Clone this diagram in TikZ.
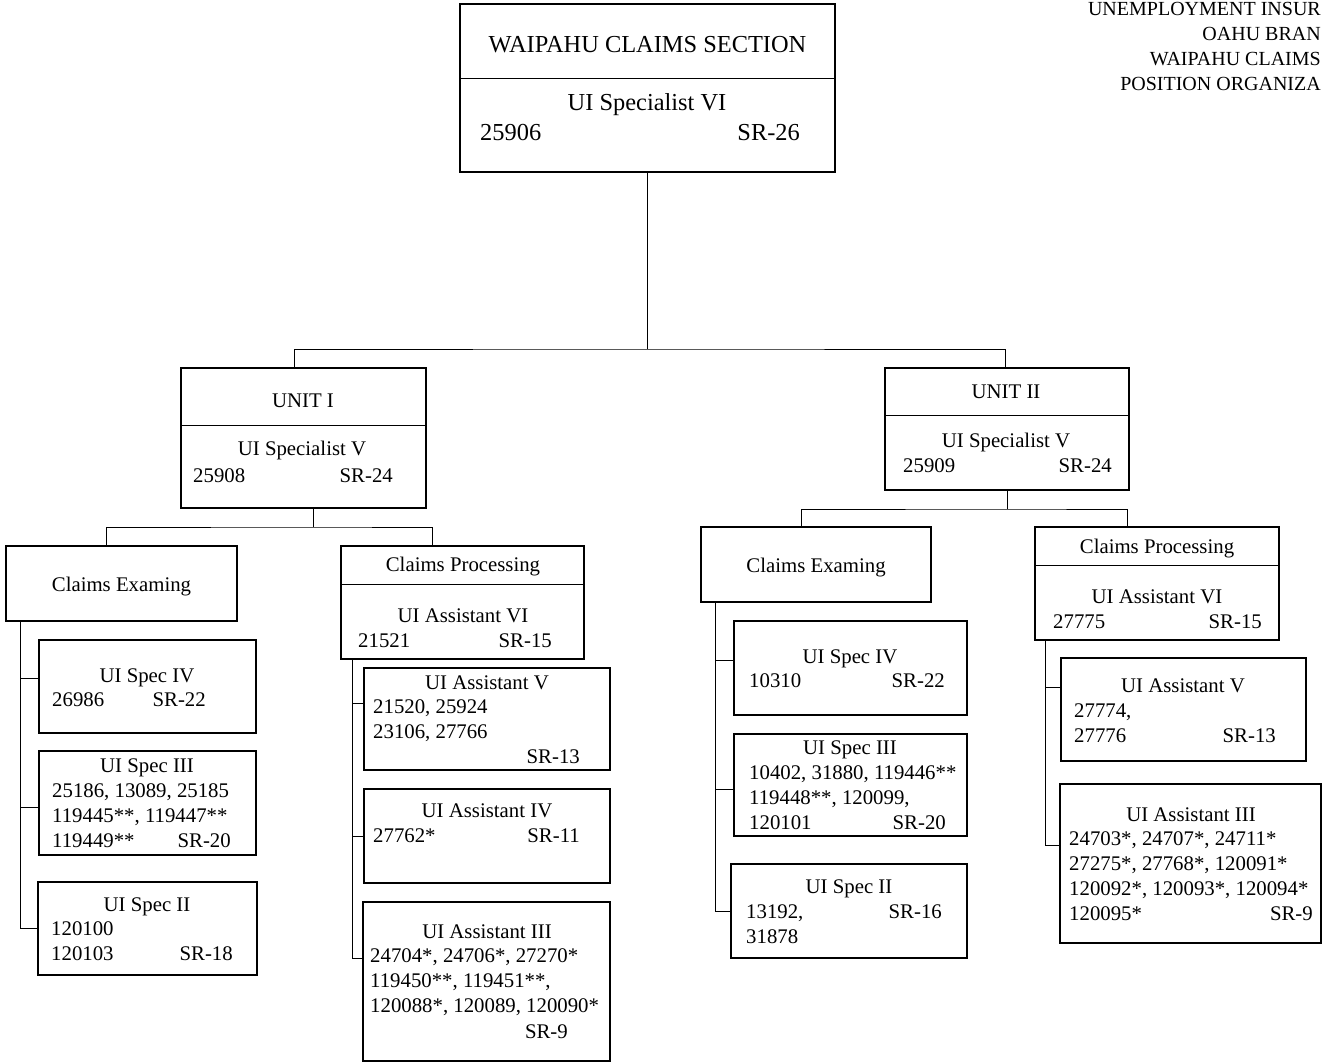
\documentclass[tikz,border=0pt]{standalone}
\usepackage{fontspec}
\setmainfont{Liberation Serif}
\newcommand\bodyfont{\fontsize{20.8}{25}\selectfont}
\newcommand\bigfont{\fontsize{24.4}{29}\selectfont}
\newcommand\hdrfont{\fontsize{20}{25}\selectfont}
\newcommand\orgbox[5]{\node[box, anchor=north west, minimum width=#4pt, minimum height=#5pt] (#1) at (#2,#3) {};}
\newcommand\ctxt[4]{\node[lbl, anchor=base] (#1) at (#2,#3) {#4};}
\newcommand\ltxt[4]{\node[lbl, anchor=base west] (#1) at (#2,#3) {#4};}
\newcommand\rtxt[4]{\node[lbl, anchor=base east] (#1) at (#2,#3) {#4};}
\begin{document}
\begin{tikzpicture}[x=1pt,y=-1pt,
  box/.style={draw, line width=1.2pt, inner sep=0pt, outer sep=0pt},
  lbl/.style={inner sep=0pt, font=\bodyfont},
  lblbig/.style={inner sep=0pt, font=\bigfont},
  hdr/.style={inner sep=0pt, font=\hdrfont},
  conn/.style={line width=1pt}]
\useasboundingbox (0,0) rectangle (1322,1063);

% ---- boxes ----
\orgbox{top}{460}{4}{375}{168}
\orgbox{u1}{181}{368}{245}{140}
\orgbox{u2}{885}{368}{244}{122}
\orgbox{ce1}{6}{546}{231}{75}
\orgbox{cp1}{341}{546}{243}{113}
\orgbox{ce2}{701}{527}{230}{75}
\orgbox{cp2}{1035}{527}{244}{113}
\orgbox{s4a}{39}{640}{217}{93}
\orgbox{s3a}{39}{751}{217}{104}
\orgbox{s2a}{38}{882}{219}{93}
\orgbox{a5a}{364}{668}{246}{102}
\orgbox{a4a}{364}{789}{246}{94}
\orgbox{a3a}{363}{902}{247}{159}
\orgbox{s4b}{734}{621}{233}{94}
\orgbox{s3b}{734}{734}{233}{102}
\orgbox{s2b}{731}{864}{236}{94}
\orgbox{a5b}{1061}{658}{245}{103}
\orgbox{a3b}{1060}{784}{261}{159}

% ---- dividers ----
\coordinate (dtop) at (0,78);
\coordinate (du1) at (0,425);
\coordinate (du2) at (0,415);
\coordinate (dcp1) at (0,584);
\coordinate (dcp2) at (0,565);
\draw[conn] (top.west |- dtop) -- (top.east |- dtop);
\draw[conn] (u1.west |- du1) -- (u1.east |- du1);
\draw[conn] (u2.west |- du2) -- (u2.east |- du2);
\draw[conn] (cp1.west |- dcp1) -- (cp1.east |- dcp1);
\draw[conn] (cp2.west |- dcp2) -- (cp2.east |- dcp2);

% ---- connectors ----
\coordinate (j0) at (647.5,349);
\draw[conn] (top.south) -- (j0);
\draw[conn] ([xshift=-9.5pt]u1.north) |- (j0) -| ([xshift=-2pt]u2.north);

\coordinate (j1) at (313,527);
\draw[conn] ([xshift=9.5pt]u1.south) -- (j1);
\draw[conn] ([xshift=-15.5pt]ce1.north) |- (j1) -| ([xshift=-30.5pt]cp1.north);

\coordinate (j2) at (1007,509);
\draw[conn] (u2.south) -- (j2);
\draw[conn] ([xshift=-15pt]ce2.north) |- (j2) -| ([xshift=-30pt]cp2.north);

% rail unit I claims examining
\coordinate (r1) at ([xshift=14pt]ce1.south west);
\coordinate (t4a) at ([yshift=8.5pt]s4a.west);
\coordinate (t3a) at ([yshift=-4pt]s3a.west);
\draw[conn] (r1) |- (s2a.west);
\draw[conn] (t4a) -- (t4a -| r1);
\draw[conn] (t3a) -- (t3a -| r1);

% rail unit I claims processing
\coordinate (r2) at ([xshift=11pt]cp1.south west);
\coordinate (t5a) at ([yshift=16pt]a5a.west);
\coordinate (tt3a) at ([yshift=23.5pt]a3a.west);
\draw[conn] (r2) |- (tt3a);
\draw[conn] (t5a) -- (t5a -| r2);
\draw[conn] (a4a.west) -- (a4a.west -| r2);

% rail unit II claims examining
\coordinate (r3) at ([xshift=14pt]ce2.south west);
\coordinate (t4b) at ([yshift=8pt]s4b.west);
\coordinate (t3b) at ([yshift=-4pt]s3b.west);
\draw[conn] (r3) |- (s2b.west);
\draw[conn] (t4b) -- (t4b -| r3);
\draw[conn] (t3b) -- (t3b -| r3);

% rail unit II claims processing
\coordinate (r4) at ([xshift=10pt]cp2.south west);
\coordinate (t5b) at ([yshift=22.5pt]a5b.west);
\coordinate (tt3b) at ([yshift=18.5pt]a3b.west);
\draw[conn] (r4) |- (tt3b);
\draw[conn] (t5b) -- (t5b -| r4);

% ---- header ----
\node[hdr, anchor=base east] (h1) at (1321,15) {UNEMPLOYMENT INSUR};
\node[hdr, anchor=base east] (h2) at (1321,40) {OAHU BRAN};
\node[hdr, anchor=base east] (h3) at (1321,65) {WAIPAHU CLAIMS};
\node[hdr, anchor=base east] (h4) at (1321,90) {POSITION ORGANIZA};

% ---- top box texts ----
\node[lblbig, anchor=base] (topt) at (647.5,52) {WAIPAHU CLAIMS SECTION};
\node[lblbig, anchor=base] (topp) at (647,110) {UI Specialist VI};
\node[lblbig, anchor=base west] (topn) at (480,140) {25906};
\node[lblbig, anchor=base east] (topg) at (800,140) {SR-26};

% ---- unit I ----
\ctxt{u1t}{303}{407}{UNIT I}
\ctxt{u1p}{302}{455}{UI Specialist V}
\ltxt{u1n}{193}{482}{25908}
\rtxt{u1g}{393}{482}{SR-24}

% ---- unit II ----
\ctxt{u2t}{1006}{398}{UNIT II}
\ctxt{u2p}{1006}{447}{UI Specialist V}
\ltxt{u2n}{903}{472}{25909}
\rtxt{u2g}{1112}{472}{SR-24}

% ---- section heads ----
\ctxt{ce1t}{121.5}{591}{Claims Examing}
\ctxt{cp1t}{463}{571}{Claims Processing}
\ctxt{cp1p}{463}{622}{UI Assistant VI}
\ltxt{cp1n}{358}{647}{21521}
\rtxt{cp1g}{552}{647}{SR-15}
\ctxt{ce2t}{816}{572}{Claims Examing}
\ctxt{cp2t}{1157}{553}{Claims Processing}
\ctxt{cp2p}{1157}{603}{UI Assistant VI}
\ltxt{cp2n}{1053}{628}{27775}
\rtxt{cp2g}{1262}{628}{SR-15}

% ---- unit I examining ----
\ctxt{s4at}{147}{682}{UI Spec IV}
\ltxt{s4an}{52}{706}{26986}
\rtxt{s4ag}{206}{706}{SR-22}

\ctxt{s3at}{147}{772}{UI Spec III}
\ltxt{s3a1}{52}{797}{25186, 13089, 25185}
\ltxt{s3a2}{52}{822}{119445**, 119447**}
\ltxt{s3a3}{52}{847}{119449**}
\rtxt{s3ag}{231}{847}{SR-20}

\ctxt{s2at}{147}{911}{UI Spec II}
\ltxt{s2a1}{51}{935}{120100}
\ltxt{s2a2}{51}{960}{120103}
\rtxt{s2ag}{233}{960}{SR-18}

% ---- unit I processing ----
\ctxt{a5at}{487}{689}{UI Assistant V}
\ltxt{a5a1}{373}{713}{21520, 25924}
\ltxt{a5a2}{373}{738}{23106, 27766}
\rtxt{a5ag}{580}{763}{SR-13}

\ctxt{a4at}{487}{817}{UI Assistant IV}
\ltxt{a4a1}{373}{842}{27762*}
\rtxt{a4ag}{580}{842}{SR-11}

\ctxt{a3at}{487}{938}{UI Assistant III}
\ltxt{a3a1}{370}{962}{24704*, 24706*, 27270*}
\ltxt{a3a2}{370}{987}{119450**, 119451**,}
\ltxt{a3a3}{370}{1012}{120088*, 120089, 120090*}
\rtxt{a3ag}{568}{1038}{SR-9}

% ---- unit II examining ----
\ctxt{s4bt}{850}{663}{UI Spec IV}
\ltxt{s4bn}{749}{687}{10310}
\rtxt{s4bg}{945}{687}{SR-22}

\ctxt{s3bt}{850}{754}{UI Spec III}
\ltxt{s3b1}{749}{779}{10402, 31880, 119446**}
\ltxt{s3b2}{749}{804}{119448**, 120099,}
\ltxt{s3b3}{749}{829}{120101}
\rtxt{s3bg}{946}{829}{SR-20}

\ctxt{s2bt}{849}{893}{UI Spec II}
\ltxt{s2b1}{746}{918}{13192,}
\rtxt{s2bg}{942}{918}{SR-16}
\ltxt{s2b2}{746}{943}{31878}

% ---- unit II processing ----
\ctxt{a5bt}{1183}{692}{UI Assistant V}
\ltxt{a5b1}{1074}{717}{27774,}
\ltxt{a5b2}{1074}{742}{27776}
\rtxt{a5bg}{1276}{742}{SR-13}

\ctxt{a3bt}{1191}{821}{UI Assistant III}
\ltxt{a3b1}{1069}{845}{24703*, 24707*, 24711*}
\ltxt{a3b2}{1069}{870}{27275*, 27768*, 120091*}
\ltxt{a3b3}{1069}{895}{120092*, 120093*, 120094*}
\ltxt{a3b4}{1069}{920}{120095*}
\rtxt{a3bg}{1313}{920}{SR-9}
\end{tikzpicture}
\end{document}
